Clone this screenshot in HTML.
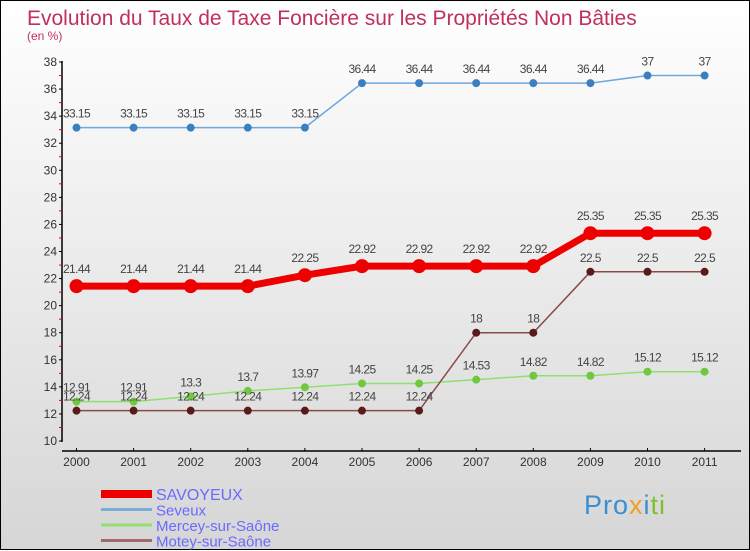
<!DOCTYPE html>
<html><head><meta charset="utf-8"><style>
html,body{margin:0;padding:0}
body{width:750px;height:550px;overflow:hidden;font-family:"Liberation Sans",sans-serif}
#wrap{position:relative;width:748px;height:548px;border:1px solid #000;background:linear-gradient(#ffffff,#d6d6d6)}
svg{position:absolute;left:0;top:0}
</style></head><body>
<div id="wrap">
<svg id="chart" width="750" height="550">
<text x="26" y="24" font-size="21" fill="#c0305a">Evolution du Taux de Taxe Foncière sur les Propriétés Non Bâties</text>
<text x="26" y="39" font-size="12" fill="#c0305a">(en %)</text>
</svg>
</div>
<script>
const years=["2000","2001","2002","2003","2004","2005","2006","2007","2008","2009","2010","2011"];
const yTicks=[10,12,14,16,18,20,22,24,26,28,30,32,34,36,38];
const savoyeux=[21.44,21.44,21.44,21.44,22.25,22.92,22.92,22.92,22.92,25.35,25.35,25.35];
const seveux=[33.15,33.15,33.15,33.15,33.15,36.44,36.44,36.44,36.44,36.44,37,37];
const mercey=[12.91,12.91,13.3,13.7,13.97,14.25,14.25,14.53,14.82,14.82,15.12,15.12];
const motey=[12.24,12.24,12.24,12.24,12.24,12.24,12.24,18,18,22.5,22.5,22.5];
const seriesNames=["SAVOYEUX","Seveux","Mercey-sur-Saône","Motey-sur-Saône"];
const NS="http://www.w3.org/2000/svg";
const svg=document.getElementById('chart');
const X=i=>75.5+i*57.1;
const Y=v=>440-(v-10)*(379/28);
function mk(t,a,p){const e=document.createElementNS(NS,t);for(const k in a)e.setAttribute(k,a[k]);(p||svg).appendChild(e);return e;}
let ax=mk('line',{x1:61,y1:60,x2:61,y2:441,stroke:'#000','stroke-width':1.5});


let xa=mk('line',{x1:61,y1:450,x2:740,y2:450,stroke:'#000','stroke-width':1.5});


yTicks.forEach(v=>{
  mk('line',{x1:58,y1:Y(v),x2:61,y2:Y(v),stroke:'#000'});
  if(v<38)mk('line',{x1:58,y1:Y(v+1),x2:61,y2:Y(v+1),stroke:'#e00'});
  const t=mk('text',{x:56,y:Y(v)+4,'font-size':12,'text-anchor':'end',fill:'#333'});
  t.textContent=v;
  
  
});
years.forEach((y,i)=>{
  mk('line',{x1:X(i),y1:447,x2:X(i),y2:450,stroke:'#000'});
  const t=mk('text',{x:X(i),y:465,'font-size':12,'text-anchor':'middle',fill:'#333'});
  t.textContent=y;
  
  
});
function series(data,color,dot,w,r,name,labelOff){
  const g=mk('g',{});
  
  
  mk('polyline',{points:data.map((v,i)=>X(i)+','+Y(v)).join(' '),fill:'none',stroke:color,'stroke-width':w},g);
  data.forEach((v,i)=>{
    const c=mk('circle',{cx:X(i),cy:Y(v),r:r,fill:dot},g);
    
    
    const t=mk('text',{x:X(i),y:Y(v)-labelOff,'font-size':12,'text-anchor':'middle',fill:'#444','letter-spacing':'-0.6'},g);
    t.textContent=String(v);
    
    
  });
}
series(seveux,'#6fa8dc','#3a7fc0',1.5,4,'seveux-series',10);
series(mercey,'#90e070','#70c840',1.5,4,'mercey-series',10);
series(motey,'#8b4a4a','#5a1a1a',1.5,4,'motey-series',10);
series(savoyeux,'#ee0000','#ee0000',7,7,'savoyeux-series',13);
const legColors=['#ee0000','#7aaed0','#90e070','#a06a6a'];
const legW=[8,3,3,3];
seriesNames.forEach((n,i)=>{
  const y=493+i*15.5;
  const g=mk('g',{});
  
  
  mk('line',{x1:100,y1:y,x2:151,y2:y,stroke:legColors[i],'stroke-width':legW[i]},g);
  const t=mk('text',{x:155,y:y+6,'font-size':i==0?16:15,fill:'#6a6aff'},g);
  t.textContent=n;
});
</script>
<div style="position:absolute;left:584px;top:490px;font-size:27px;font-family:'Liberation Sans',sans-serif;letter-spacing:1px"><span style="color:#3a8fd0">Pro</span><span style="color:#f0a020">x</span><span style="color:#3a8fd0">i</span><span style="color:#80c030">ti</span></div>
</body></html>
